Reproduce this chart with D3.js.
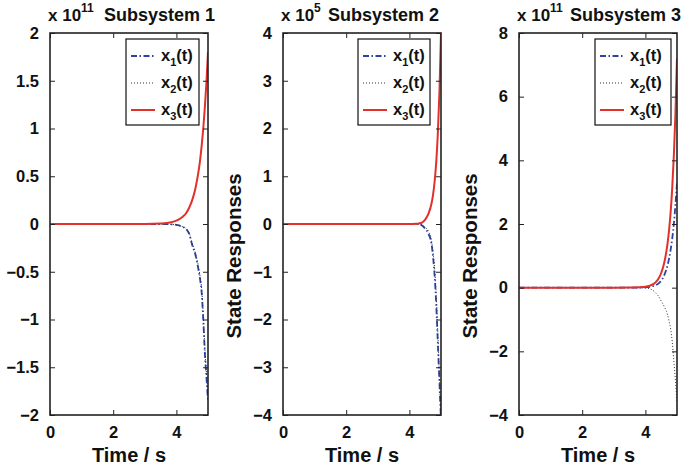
<!DOCTYPE html>
<html>
<head>
<meta charset="utf-8">
<script src="https://cdn.jsdelivr.net/npm/d3@7"></script>
<style>
  body { margin: 0; background: #fff; }
  svg text { font-family: "Liberation Sans", Arial, sans-serif; font-weight: bold; fill: #111; }
</style>
</head>
<body>
<svg id="chart"></svg>
<script>
// time samples (s)
var time = [0, 0.5, 1, 1.5, 2, 2.5, 3, 3.5, 3.8, 4.0, 4.2, 4.3, 4.4, 4.5, 4.6, 4.7, 4.75, 4.8, 4.85, 4.9, 4.95, 5.0];

// Subsystem 1 (x 10^11)
var sub1_x1 = [0, 0, 0, 0, 0, 0, 0, 0, -0.003, -0.01, -0.03, -0.05, -0.1, -0.22, -0.32, -0.48, -0.58, -0.72, -1.0, -1.35, -1.6, -1.85];
var sub1_x2 = [0, 0, 0, 0, 0, 0, 0, 0, -0.003, -0.01, -0.028, -0.047, -0.09, -0.2, -0.3, -0.45, -0.55, -0.68, -0.95, -1.3, -1.55, -1.8];
var sub1_x3 = [0, 0, 0, 0, 0, 0, 0, 0.005, 0.015, 0.035, 0.076, 0.11, 0.168, 0.25, 0.37, 0.55, 0.67, 0.82, 1.0, 1.22, 1.48, 1.8];

// Subsystem 2 (x 10^5)
var sub2_x1 = [0, 0, 0, 0, 0, 0, 0, 0, 0, 0, 0, -0.005, -0.03, -0.1, -0.2, -0.42, -0.7, -1.1, -1.7, -2.5, -3.3, -4.1];
var sub2_x2 = [0, 0, 0, 0, 0, 0, 0, 0, 0, 0, 0, -0.004, -0.02, -0.07, -0.15, -0.35, -0.6, -0.95, -1.5, -2.3, -3.2, -4.1];
var sub2_x3 = [0, 0, 0, 0, 0, 0, 0, 0, 0, 0, 0.005, 0.012, 0.03, 0.09, 0.21, 0.43, 0.62, 0.9, 1.3, 1.9, 2.75, 4.0];

// Subsystem 3 (x 10^11)
var sub3_x1 = [0, 0, 0, 0, 0, 0, 0, 0, 0.004, 0.01, 0.04, 0.07, 0.12, 0.22, 0.4, 0.7, 0.92, 1.2, 1.55, 2.0, 2.6, 3.3];
var sub3_x2 = [0, 0, 0, 0, 0, 0, 0, 0, -0.004, -0.01, -0.06, -0.14, -0.25, -0.42, -0.6, -0.85, -1.05, -1.3, -1.7, -2.3, -2.9, -3.6];
var sub3_x3 = [0, 0, 0, 0, 0, 0, 0, 0.005, 0.012, 0.03, 0.09, 0.15, 0.26, 0.46, 0.8, 1.38, 1.82, 2.39, 3.15, 4.15, 5.45, 7.2];

var titles = ["Subsystem 1", "Subsystem 2", "Subsystem 3"];
var exponents = ["11", "5", "11"];
var xTicks = [0, 2, 4];
var yTicks1 = [-2, -1.5, -1, -0.5, 0, 0.5, 1, 1.5, 2];
var yTicks2 = [-4, -3, -2, -1, 0, 1, 2, 3, 4];
var yTicks3 = [-4, -2, 0, 2, 4, 6, 8];
var legendLabels = ["1", "2", "3"];

var svgWidth = 689, svgHeight = 470;
var svg = d3.select('#chart')
    .attr("width", svgWidth)
    .attr("height", svgHeight);

svg.append("rect").attr("width", svgWidth).attr("height", svgHeight).attr("fill", "#fff");

var plotTop = 33, plotBottom = 415, plotW = 158;

var panels = [
    { left: 50, series: [sub1_x1, sub1_x2, sub1_x3], yDomain: [-2, 2], yTicks: yTicks1, ylabel: false, legendX: 126, legendW: 73, titleX: 104 },
    { left: 283, series: [sub2_x1, sub2_x2, sub2_x3], yDomain: [-4, 4], yTicks: yTicks2, ylabel: true, legendX: 358, legendW: 72, titleX: 328 },
    { left: 519, series: [sub3_x1, sub3_x2, sub3_x3], yDomain: [-4, 8], yTicks: yTicks3, ylabel: true, legendX: 595, legendW: 76, titleX: 570 }
];

var styles = [
    { color: "#2b43a3", width: 1.8, dash: "6,2.5,1.5,2.5" },
    { color: "#333", width: 1, dash: "1,2" },
    { color: "#e3302a", width: 2, dash: null }
];

function fmt(d) {
    return (d < 0 ? "\u2212" : "") + Math.abs(d);
}

panels.forEach(function (p, pi) {
    var x = d3.scaleLinear().domain([0, 5]).range([p.left, p.left + plotW]);
    var y = d3.scaleLinear().domain(p.yDomain).range([plotBottom, plotTop]);

    var g = svg.append("g");

    var clipId = "clip" + pi;
    svg.append("clipPath").attr("id", clipId)
        .append("rect")
        .attr("x", p.left).attr("y", plotTop)
        .attr("width", plotW).attr("height", plotBottom - plotTop);

    // lines
    var line = d3.line()
        .x(function (d, i) { return x(time[i]); })
        .y(function (d) { return y(d); })
        .curve(d3.curveMonotoneX);

    p.series.forEach(function (s, si) {
        g.append("path")
            .datum(s)
            .attr("clip-path", "url(#" + clipId + ")")
            .attr("fill", "none")
            .attr("stroke", styles[si].color)
            .attr("stroke-width", styles[si].width)
            .attr("stroke-dasharray", styles[si].dash)
            .attr("d", line);
    });

    // axes with inward ticks
    var left = g.append("g").attr("transform", "translate(" + p.left + ",0)")
        .call(d3.axisLeft(y).tickValues(p.yTicks).tickSize(-5).tickPadding(11).tickFormat(fmt));
    var right = g.append("g").attr("transform", "translate(" + (p.left + plotW) + ",0)")
        .call(d3.axisRight(y).tickValues(p.yTicks).tickSize(-5).tickFormat(""));
    var bottom = g.append("g").attr("transform", "translate(0," + plotBottom + ")")
        .call(d3.axisBottom(x).tickValues(xTicks).tickSize(-5).tickPadding(11).tickFormat(fmt));
    var top = g.append("g").attr("transform", "translate(0," + plotTop + ")")
        .call(d3.axisTop(x).tickValues(xTicks).tickSize(-5).tickFormat(""));

    [left, right, bottom, top].forEach(function (a) {
        a.select(".domain").remove();
        a.selectAll("line").attr("stroke", "#222").attr("stroke-width", 1);
        a.selectAll("text").attr("font-size", 16.5).attr("fill", "#111")
            .attr("font-family", "Liberation Sans, Arial, sans-serif").attr("font-weight", "bold");
    });

    g.append("rect")
        .attr("x", p.left).attr("y", plotTop)
        .attr("width", plotW).attr("height", plotBottom - plotTop)
        .attr("fill", "none").attr("stroke", "#222").attr("stroke-width", 1.6);

    // exponent and title
    var ex = g.append("text").attr("x", p.left - 2).attr("y", 21).attr("font-size", 17);
    ex.append("tspan").text("x 10");
    ex.append("tspan").attr("dy", -9).attr("font-size", 12).text(exponents[pi]);
    g.append("text")
        .attr("x", p.titleX).attr("y", 21)
        .attr("font-size", 18)
        .text(titles[pi]);

    // x label
    g.append("text")
        .attr("x", p.left + plotW / 2).attr("y", 462)
        .attr("text-anchor", "middle").attr("font-size", 20)
        .text("Time / s");

    if (p.ylabel) {
        g.append("text")
            .attr("transform", "translate(" + (p.left - 42) + ",256) rotate(-90)")
            .attr("text-anchor", "middle").attr("font-size", 20.5)
            .text("State Responses");
    }

    // legend
    var lg = g.append("g").attr("transform", "translate(" + p.legendX + ",39)");
    lg.append("rect").attr("width", p.legendW).attr("height", 86)
        .attr("fill", "#fff").attr("stroke", "#111").attr("stroke-width", 1.2);
    legendLabels.forEach(function (lab, li) {
        var cy = 17 + li * 27;
        lg.append("line")
            .attr("x1", 5).attr("x2", 29).attr("y1", cy).attr("y2", cy)
            .attr("stroke", styles[li].color)
            .attr("stroke-width", styles[li].width)
            .attr("stroke-dasharray", styles[li].dash);
        var t = lg.append("text").attr("x", 35).attr("y", cy + 5).attr("font-size", 16.5);
        t.append("tspan").text("x");
        t.append("tspan").attr("dy", 5).attr("font-size", 11).text(lab);
        t.append("tspan").attr("dy", -5).text("(t)");
    });
});
</script>
</body>
</html>
